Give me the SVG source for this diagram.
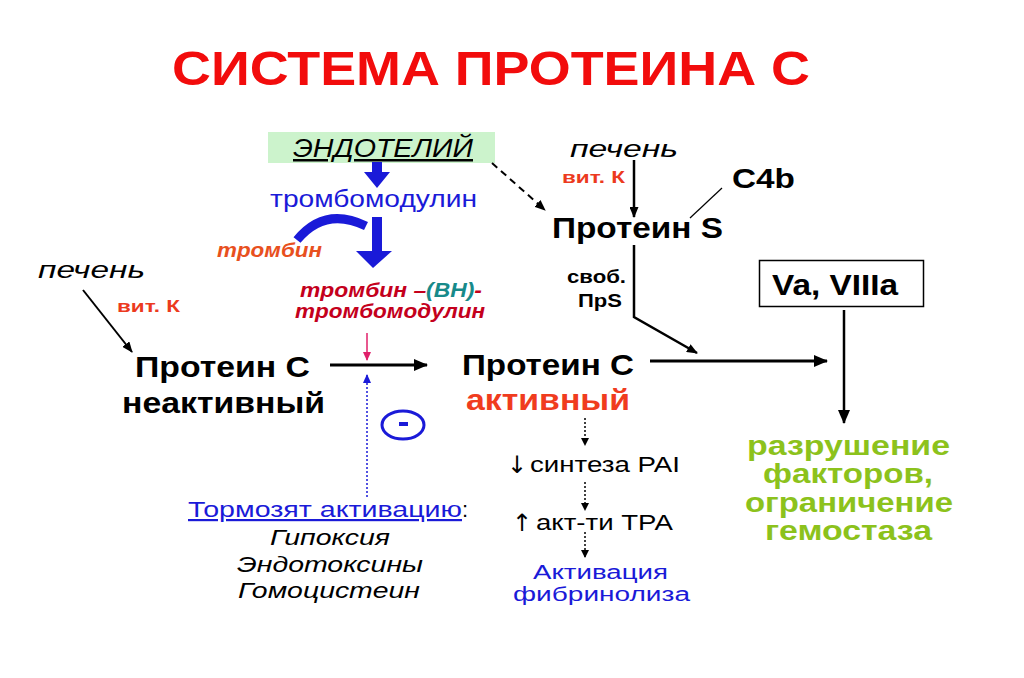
<svg xmlns="http://www.w3.org/2000/svg" width="1024" height="678" viewBox="0 0 1024 678">
<style>
text{font-family:"Liberation Sans",Arial,sans-serif;}
.b{font-weight:bold;}
.i{font-style:italic;}
.blk{fill:#000;}
.red{fill:#ec3a1e;}
.green{fill:#8cc21c;font-weight:bold;}
.blue{fill:#1a1ad8;}
.ln{stroke:#000;fill:none;}
.arr{font-family:"DejaVu Sans",sans-serif;font-size:24px;}
</style>
<defs>
<marker id="ah" markerWidth="14" markerHeight="12" refX="13" refY="6" orient="auto" markerUnits="userSpaceOnUse"><path d="M0,0 L14,6 L0,12 z" fill="#000"/></marker>
<marker id="ahs" markerWidth="11" markerHeight="9" refX="10" refY="4.5" orient="auto" markerUnits="userSpaceOnUse"><path d="M0,0 L11,4.5 L0,9 z" fill="#000"/></marker>
<marker id="ahd" markerWidth="8" markerHeight="8" refX="7" refY="4" orient="auto" markerUnits="userSpaceOnUse"><path d="M0,0 L8,4 L0,8 z" fill="#000"/></marker>
<marker id="ahp" markerWidth="9" markerHeight="8" refX="8" refY="4" orient="auto" markerUnits="userSpaceOnUse"><path d="M0,0 L9,4 L0,8 z" fill="#e0206a"/></marker>
<marker id="ahb" markerWidth="9" markerHeight="8" refX="8" refY="4" orient="auto" markerUnits="userSpaceOnUse"><path d="M0,0 L9,4 L0,8 z" fill="#1a1ad8"/></marker>
</defs>
<rect width="1024" height="678" fill="#fff"/>

<g id="title">
<text x="172" y="85" font-size="48" class="b" fill="#f20c0c" textLength="638" lengthAdjust="spacingAndGlyphs">СИСТЕМА ПРОТЕИНА С</text>
</g>

<g id="endothelium">
<rect x="268" y="132" width="227" height="31" fill="#ccf3cc"/>
<text x="293" y="157" font-size="25" class="i" fill="#000" textLength="180" lengthAdjust="spacingAndGlyphs" text-decoration="underline">ЭНДОТЕЛИЙ</text>
</g>

<g id="thrombomodulin">
<rect x="372" y="162" width="10" height="11" fill="#1a1ad8"/>
<polygon points="364,172 390,172 377,188" fill="#1a1ad8"/>
<text x="270" y="207" font-size="24" class="blue" textLength="207" lengthAdjust="spacingAndGlyphs">тромбомодулин</text>
</g>

<g id="thrombin-curve">
<path d="M297,240 Q325,206 366,226" stroke="#1a1ad8" stroke-width="9" fill="none"/>
<rect x="372" y="217" width="10" height="36" fill="#1a1ad8"/>
<polygon points="356,251 392,251 373,268" fill="#1a1ad8"/>
<text x="217" y="257" font-size="20" class="b i" fill="#e8501e" textLength="105" lengthAdjust="spacingAndGlyphs">тромбин</text>
</g>

<g id="complex">
<text x="300" y="297" font-size="20" class="b i" fill="#c4001c" textLength="182" lengthAdjust="spacingAndGlyphs">тромбин –<tspan fill="#178a8a">(ВН)</tspan>-</text>
<text x="295" y="318" font-size="20" class="b i" fill="#c4001c" textLength="190" lengthAdjust="spacingAndGlyphs">тромбомодулин</text>
</g>

<g id="liver-left">
<text x="38" y="278" font-size="24" class="i blk" textLength="107" lengthAdjust="spacingAndGlyphs">печень</text>
<text x="117" y="312" font-size="17" class="b red" textLength="63" lengthAdjust="spacingAndGlyphs">вит. К</text>
</g>

<g id="protein-c-inactive">
<text x="135" y="377" font-size="30" class="b blk" textLength="175" lengthAdjust="spacingAndGlyphs">Протеин С</text>
<text x="122" y="413" font-size="30" class="b blk" textLength="203" lengthAdjust="spacingAndGlyphs">неактивный</text>
</g>

<g id="inhibit">
<ellipse cx="403" cy="425" rx="21" ry="14" fill="none" stroke="#1a1ad8" stroke-width="3"/>
<rect x="399" y="422" width="9" height="4" fill="#1a1ad8"/>
<text x="188" y="517" font-size="22" class="blue" textLength="274" lengthAdjust="spacingAndGlyphs" text-decoration="underline">Тормозят активацию</text>
<text x="462" y="517" font-size="22" class="blk">:</text>
<text x="270" y="545" font-size="22" class="i blk" textLength="120" lengthAdjust="spacingAndGlyphs">Гипоксия</text>
<text x="237" y="572" font-size="22" class="i blk" textLength="186" lengthAdjust="spacingAndGlyphs">Эндотоксины</text>
<text x="238" y="598" font-size="22" class="i blk" textLength="182" lengthAdjust="spacingAndGlyphs">Гомоцистеин</text>
</g>

<g id="liver-right">
<text x="570" y="157" font-size="24" class="i blk" textLength="108" lengthAdjust="spacingAndGlyphs">печень</text>
<text x="562" y="183" font-size="17" class="b red" textLength="63" lengthAdjust="spacingAndGlyphs">вит. К</text>
</g>

<g id="c4b">
<text x="732" y="188" font-size="28" class="b blk" textLength="63" lengthAdjust="spacingAndGlyphs">C4b</text>
</g>

<g id="protein-s">
<text x="552" y="238" font-size="29" class="b blk" textLength="171" lengthAdjust="spacingAndGlyphs">Протеин S</text>
<text x="567" y="283" font-size="18" class="b blk" textLength="59" lengthAdjust="spacingAndGlyphs">своб.</text>
<text x="578" y="307" font-size="18" class="b blk" textLength="44" lengthAdjust="spacingAndGlyphs">ПрS</text>
</g>

<g id="factors">
<rect x="759.5" y="260.5" width="164" height="46" fill="#fff" stroke="#000" stroke-width="1.5"/>
<text x="772" y="295" font-size="30" class="b blk" textLength="126" lengthAdjust="spacingAndGlyphs">Va, VIIIa</text>
</g>

<g id="protein-c-active">
<text x="462" y="375" font-size="30" class="b blk" textLength="172" lengthAdjust="spacingAndGlyphs">Протеин С</text>
<text x="466" y="410" font-size="30" class="b" fill="#f03c1e" textLength="164" lengthAdjust="spacingAndGlyphs">активный</text>
</g>

<g id="fibrinolysis">
<text x="507" y="473" class="arr blk">↓</text>
<text x="530" y="472" font-size="22" class="blk" textLength="150" lengthAdjust="spacingAndGlyphs">синтеза PAI</text>
<text x="512" y="531" class="arr blk">↑</text>
<text x="536" y="530" font-size="22" class="blk" textLength="137" lengthAdjust="spacingAndGlyphs">акт-ти ТРА</text>
<text x="533" y="579" font-size="20" class="blue" textLength="135" lengthAdjust="spacingAndGlyphs">Активация</text>
<text x="513" y="601" font-size="20" class="blue" textLength="177" lengthAdjust="spacingAndGlyphs">фибринолиза</text>
</g>

<g id="result">
<text x="747" y="455" font-size="27" class="green" textLength="203" lengthAdjust="spacingAndGlyphs">разрушение</text>
<text x="763" y="483" font-size="27" class="green" textLength="170" lengthAdjust="spacingAndGlyphs">факторов,</text>
<text x="745" y="512" font-size="27" class="green" textLength="208" lengthAdjust="spacingAndGlyphs">ограничение</text>
<text x="765" y="540" font-size="27" class="green" textLength="167" lengthAdjust="spacingAndGlyphs">гемостаза</text>
</g>

<g id="connectors">
<line x1="492" y1="163" x2="545" y2="210" class="ln" stroke-width="2" stroke-dasharray="7,5" marker-end="url(#ahs)"/>
<line x1="83" y1="290" x2="132" y2="352" class="ln" stroke-width="2" marker-end="url(#ahs)"/>
<line x1="634" y1="160" x2="634" y2="217" class="ln" stroke-width="2.5" marker-end="url(#ahs)"/>
<line x1="722" y1="188" x2="690" y2="218" class="ln" stroke-width="1.2"/>
<path d="M634,245 L634,317 L697,353" class="ln" stroke-width="2.5" marker-end="url(#ahs)"/>
<line x1="330" y1="365" x2="427" y2="365" class="ln" stroke-width="3" marker-end="url(#ah)"/>
<line x1="650" y1="361" x2="827" y2="361" class="ln" stroke-width="3" marker-end="url(#ah)"/>
<line x1="844" y1="310" x2="844" y2="423" class="ln" stroke-width="2.5" marker-end="url(#ah)"/>
<line x1="367" y1="333" x2="367" y2="360" stroke="#e0206a" stroke-width="1.5" marker-end="url(#ahp)"/>
<line x1="367" y1="497" x2="367" y2="375" stroke="#1a1ad8" stroke-width="1.5" stroke-dasharray="2,2" marker-end="url(#ahb)"/>
<line x1="585" y1="418" x2="585" y2="445" class="ln" stroke-width="1.5" stroke-dasharray="2,2" marker-end="url(#ahd)"/>
<line x1="585" y1="482" x2="585" y2="510" class="ln" stroke-width="1.5" stroke-dasharray="2,2" marker-end="url(#ahd)"/>
<line x1="585" y1="532" x2="585" y2="557" class="ln" stroke-width="1.5" stroke-dasharray="2,2" marker-end="url(#ahd)"/>
</g>
</svg>
